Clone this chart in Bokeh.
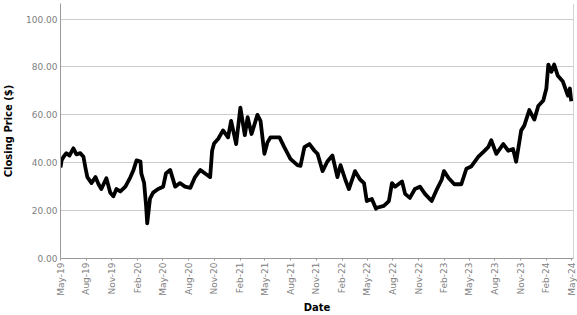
from datetime import datetime
from bokeh.plotting import figure
from bokeh.models import (FixedTicker, DatetimeTickFormatter, NumeralTickFormatter,
                          Range1d, Span, ColumnDataSource)
from bokeh.embed import file_html
from bokeh.resources import INLINE
from math import pi

dates = [
    "2019-05-01", "2019-05-05", "2019-05-12", "2019-05-22", "2019-06-02", "2019-06-16",
    "2019-06-27", "2019-07-11", "2019-07-22", "2019-07-29", "2019-08-05", "2019-08-20",
    "2019-09-03", "2019-09-14", "2019-09-24", "2019-10-12", "2019-10-26", "2019-11-06",
    "2019-11-17", "2019-12-01", "2019-12-19", "2020-01-06", "2020-01-17", "2020-01-28",
    "2020-02-11", "2020-02-14", "2020-02-24", "2020-03-02", "2020-03-06", "2020-03-16",
    "2020-03-27", "2020-04-14", "2020-05-02", "2020-05-12", "2020-05-27", "2020-06-14",
    "2020-07-01", "2020-07-19", "2020-08-07", "2020-08-24", "2020-09-12", "2020-09-29",
    "2020-10-17", "2020-10-24", "2020-10-31", "2020-11-15", "2020-12-02", "2020-12-20",
    "2020-12-31", "2021-01-18", "2021-02-02", "2021-02-18", "2021-02-28", "2021-03-14",
    "2021-04-04", "2021-04-15", "2021-04-29", "2021-05-10", "2021-05-21", "2021-06-22",
    "2021-07-09", "2021-07-31", "2021-08-25", "2021-09-05", "2021-09-19", "2021-10-07",
    "2021-10-25", "2021-11-05", "2021-11-23", "2021-12-10", "2021-12-28", "2022-01-15",
    "2022-01-26", "2022-02-12", "2022-02-25", "2022-03-19", "2022-04-06", "2022-04-20",
    "2022-04-30", "2022-05-18", "2022-06-02", "2022-06-05", "2022-06-30", "2022-07-18",
    "2022-07-29", "2022-08-09", "2022-09-03", "2022-09-14", "2022-10-01", "2022-10-19",
    "2022-11-06", "2022-11-24", "2022-12-18", "2023-01-06", "2023-01-23", "2023-01-31",
    "2023-02-17", "2023-03-09", "2023-04-03", "2023-04-21", "2023-05-08", "2023-06-03",
    "2023-06-21", "2023-07-08", "2023-07-19", "2023-08-06", "2023-08-31", "2023-09-18",
    "2023-10-05", "2023-10-16", "2023-11-03", "2023-11-14", "2023-12-02", "2023-12-20",
    "2024-01-03", "2024-01-21", "2024-02-01", "2024-02-08", "2024-02-19", "2024-02-29",
    "2024-03-13", "2024-03-31", "2024-04-18", "2024-04-25", "2024-04-30",
]
prices = [
    38.0, 41.0, 42.5, 44.0, 43.0, 46.0,
    43.5, 44.0, 42.5, 38.0, 34.0, 31.5,
    34.0, 31.0, 29.0, 33.5, 27.5, 26.0,
    29.0, 28.0, 30.0, 34.0, 37.0, 41.0,
    40.5, 35.5, 31.5, 22.0, 14.7, 25.0,
    27.5, 29.0, 30.0, 35.5, 37.0, 30.0,
    31.5, 30.0, 29.5, 34.0, 37.0, 35.5,
    34.0, 45.0, 48.0, 50.0, 53.5, 50.6,
    57.5, 47.8, 63.0, 51.5, 59.0, 52.0,
    60.0, 57.5, 43.7, 48.5, 50.6, 50.6,
    46.5, 41.6, 39.0, 38.7, 46.5, 47.8,
    45.0, 43.7, 36.5, 40.5, 43.0, 34.0,
    39.0, 33.0, 29.0, 36.5, 33.0, 31.5,
    24.0, 24.9, 20.8, 21.2, 22.0, 24.0,
    31.5, 30.0, 32.2, 27.0, 25.3, 29.0,
    30.0, 27.0, 24.0, 29.0, 33.0, 36.5,
    33.5, 31.0, 31.0, 37.5, 38.4, 42.5,
    44.5, 46.5, 49.4, 43.7, 47.8, 45.0,
    45.7, 40.4, 53.5, 55.5, 62.0, 58.0,
    63.7, 66.0, 71.0, 81.0, 78.0, 81.0,
    76.3, 73.9, 68.0, 71.0, 65.7,
]
x_tick_dates = ["2019-05-01", "2019-08-01", "2019-11-01", "2020-02-01", "2020-05-01",
                "2020-08-01", "2020-11-01", "2021-02-01", "2021-05-01", "2021-08-01",
                "2021-11-01", "2022-02-01", "2022-05-01", "2022-08-01", "2022-11-01",
                "2023-02-01", "2023-05-01", "2023-08-01", "2023-11-01", "2024-02-01",
                "2024-05-01"]
y_ticks = [0, 20, 40, 60, 80, 100]

def ms(s):
    d = datetime.strptime(s, "%Y-%m-%d")
    return (d - datetime(1970, 1, 1)).total_seconds() * 1000.0

src = ColumnDataSource(dict(x=[ms(d) for d in dates], y=prices))

x_start = ms("2019-05-01")
x_end = ms("2024-05-08")

p = figure(width=577, height=315, output_backend="svg", toolbar_location=None,
           x_axis_type="datetime",
           x_range=Range1d(x_start, x_end), y_range=Range1d(0, 106.5),
           min_border_left=57, min_border_right=4, min_border_top=3, min_border_bottom=51)

p.line("x", "y", source=src, line_color="black", line_width=3.8, line_join="round")

p.outline_line_color = None
p.background_fill_color = "white"
p.border_fill_color = "white"
p.xgrid.grid_line_color = None
p.ygrid.grid_line_color = "#cccccc"
p.ygrid.grid_line_width = 1

p.add_layout(Span(location=x_end, dimension="height", line_color="#aaaaaa", line_width=1))

p.xaxis.ticker = FixedTicker(ticks=[ms(d) for d in x_tick_dates])
p.xaxis.formatter = DatetimeTickFormatter(days="%b-%y", months="%b-%y", years="%b-%y",
                                          hours="%b-%y", minutes="%b-%y")
p.xaxis.major_label_orientation = pi / 2
p.yaxis.ticker = FixedTicker(ticks=y_ticks)
p.yaxis.formatter = NumeralTickFormatter(format="0.00")

for ax in (p.xaxis, p.yaxis):
    ax.axis_line_color = "#999999"
    ax.major_tick_line_color = "#999999"
    ax.minor_tick_line_color = None
    ax.major_label_text_color = "#808080"
    ax.major_label_text_font = "DejaVu Sans"
    ax.major_label_text_font_size = "9px"
    ax.axis_label_text_font = "DejaVu Sans"
    ax.axis_label_text_font_style = "bold"
    ax.axis_label_text_font_size = "10px"
    ax.axis_label_text_color = "black"

p.xaxis.major_tick_out = 2
p.xaxis.major_tick_in = 0
p.yaxis.major_tick_out = 0
p.yaxis.major_tick_in = 0
p.xaxis.major_label_standoff = 2
p.yaxis.major_label_standoff = 3
p.xaxis.axis_label = "Date"
p.yaxis.axis_label = "Closing Price ($)"
p.xaxis.axis_label_standoff = 3
p.yaxis.axis_label_standoff = 9

open("out.html", "w").write(file_html(p, INLINE))
